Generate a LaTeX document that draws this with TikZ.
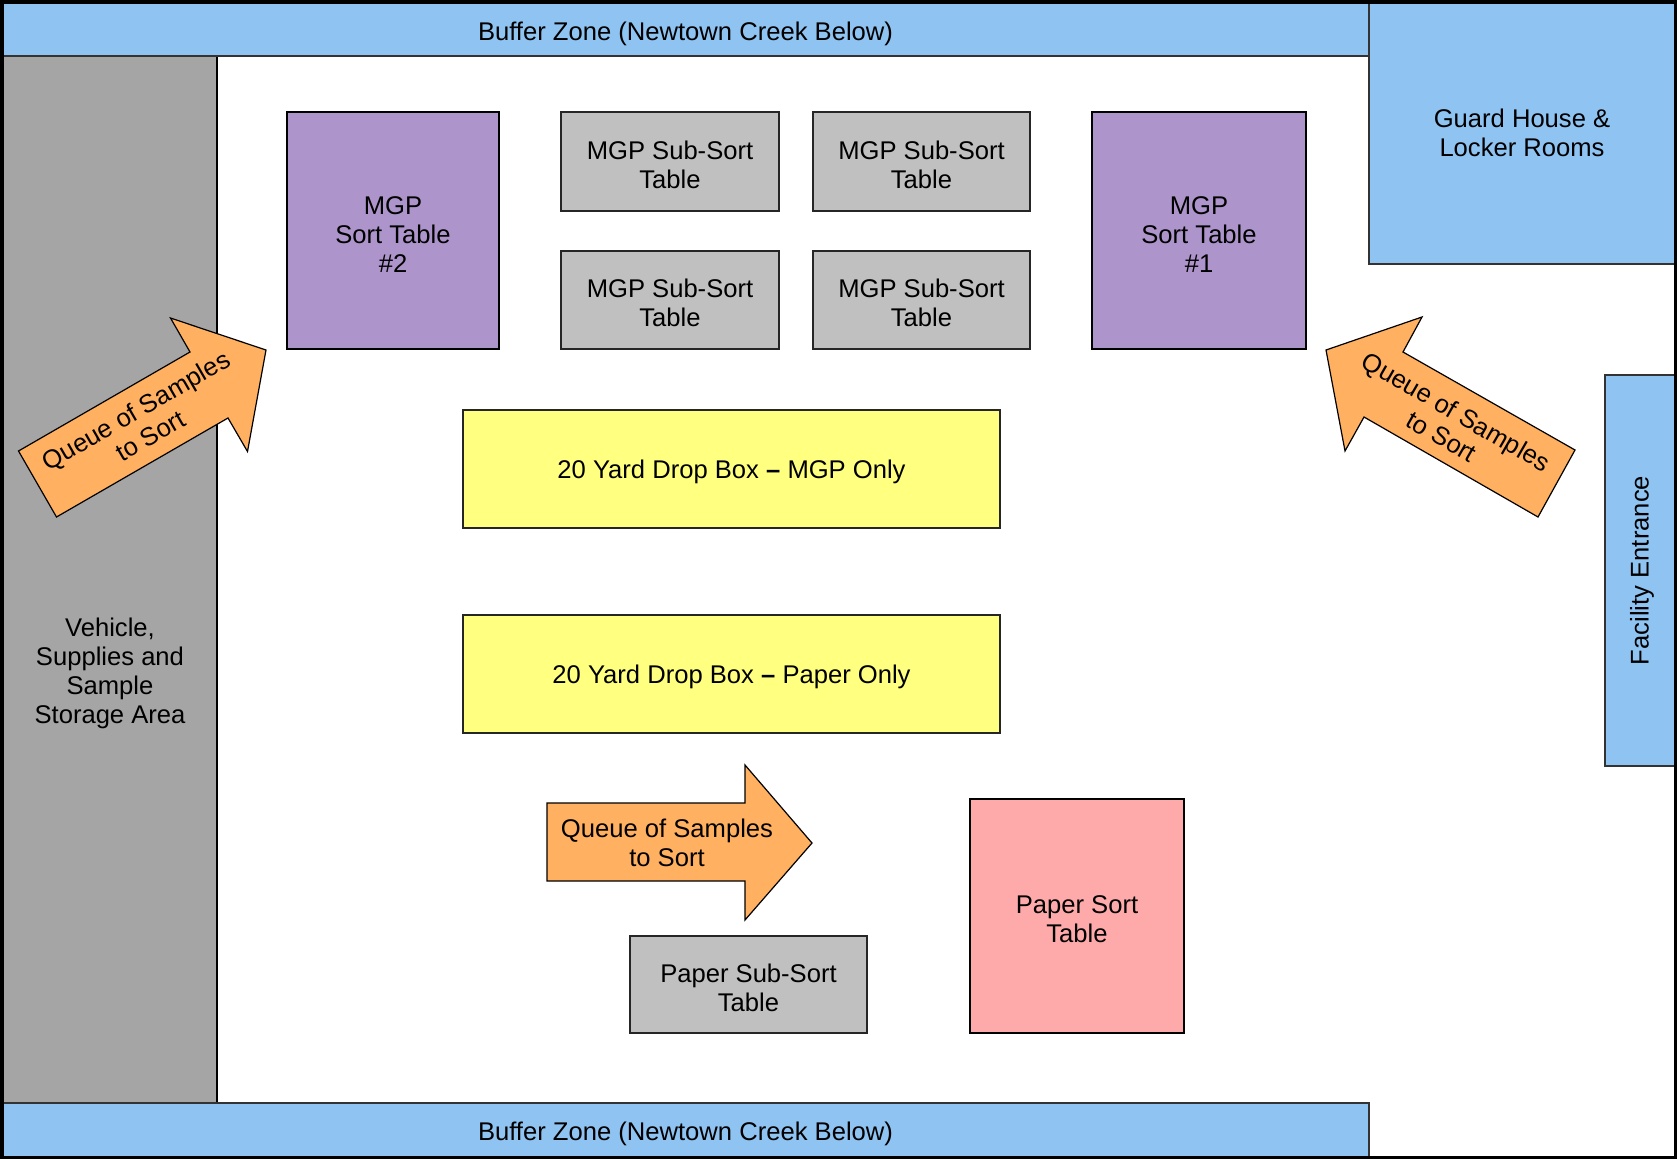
\documentclass[tikz,border=0pt]{standalone}
\usepackage{fontspec}
\setmainfont{Liberation Sans}
\definecolor{zoneblue}{HTML}{8FC3F2}
\definecolor{storegray}{HTML}{A5A5A5}
\definecolor{tablegray}{HTML}{C0C0C0}
\definecolor{mgppurple}{HTML}{AD94CB}
\definecolor{dropyellow}{HTML}{FFFF80}
\definecolor{paperpink}{HTML}{FFAAAA}
\definecolor{queueorange}{HTML}{FFB060}
\begin{document}
\begin{tikzpicture}[x=1pt,y=-1pt,
  lbl/.style={font=\fontsize{25.6}{28.8}\selectfont, align=center, text=black, inner sep=0pt},
  txt/.style={lbl, yshift=-3pt},
  area/.style={draw=black!80, line width=1.2, inner sep=0pt, outer sep=0pt},
  zone/.style={area, fill=zoneblue},
  subtable/.style={area, fill=tablegray, draw=black!85, line width=1.5},
  sorttable/.style={area, draw=black, line width=2.2},
  dropbox/.style={area, fill=dropyellow, draw=black!85, line width=1.3},
  queue/.style={fill=queueorange, draw=black, line width=1.2, line join=miter},
]
\useasboundingbox (0,0) rectangle (1677,1159);
\fill[white] (0,0) rectangle (1677,1159);

% storage area
\node[area, fill=storegray, draw=black, line width=2.2, minimum width=215, minimum height=1047] (storage) at (109.5,579.5) {};
\node[lbl] (storagetxt) at (110,673.5) {Vehicle,\\Supplies and\\Sample\\Storage Area};

% buffer zones and buildings
\node[zone, minimum width=1367, minimum height=54, label={[lbl,yshift=-4.5pt]center:Buffer Zone (Newtown Creek Below)}] (topbuf) at (685.5,29) {};
\node[zone, minimum width=1367, minimum height=54, label={[lbl,yshift=-4pt]center:Buffer Zone (Newtown Creek Below)}] (botbuf) at (685.5,1130) {};
\node[zone, minimum width=306, minimum height=262, label={[lbl]center:Guard House \&\\Locker Rooms}] (guard) at (1522,133) {};
\node[zone, minimum width=70, minimum height=391] (entrance) at (1640,570.5) {};
\node[lbl, rotate=90] (entrancetxt) at (1642,570.5) {Facility Entrance};

% MGP tables
\node[sorttable, fill=mgppurple, minimum width=212, minimum height=237, label={[txt, yshift=-1pt]center:MGP\\Sort Table\\\#2}] (mgp2) at (393,230.5) {};
\node[sorttable, fill=mgppurple, minimum width=214, minimum height=237, label={[txt, yshift=-1pt]center:MGP\\Sort Table\\\#1}] (mgp1) at (1199,230.5) {};
\node[subtable, minimum width=218, minimum height=99, label={[txt]center:MGP Sub-Sort\\Table}] (sub1) at (670,161.5) {};
\node[subtable, minimum width=217, minimum height=99, label={[txt]center:MGP Sub-Sort\\Table}] (sub2) at (921.5,161.5) {};
\node[subtable, minimum width=218, minimum height=98, label={[txt]center:MGP Sub-Sort\\Table}] (sub3) at (670,300) {};
\node[subtable, minimum width=217, minimum height=98, label={[txt]center:MGP Sub-Sort\\Table}] (sub4) at (921.5,300) {};

% drop boxes
\node[dropbox, minimum width=537, minimum height=118, label={[txt]center:20 Yard Drop Box \textbf{--} MGP Only}] (drop1) at (731.5,469) {};
\node[dropbox, minimum width=537, minimum height=118, label={[txt]center:20 Yard Drop Box \textbf{--} Paper Only}] (drop2) at (731.5,674) {};

% paper tables
\node[sorttable, fill=paperpink, minimum width=214, minimum height=234, label={[txt]center:Paper Sort\\Table}] (papersort) at (1077,916) {};
\node[subtable, minimum width=237, minimum height=97, label={[txt]center:Paper Sub-Sort\\Table}] (papersub) at (748.5,984.5) {};

% queue arrows
\draw[queue] (18.5,451) -- (190,352) -- (170.5,318) -- (266,350) -- (247.5,451.5) -- (228,418) -- (56.5,517) -- cycle;
\node[lbl, rotate=30] (queueleft) at (143,423) {Queue of Samples\\to Sort};

\draw[queue] (1575,450) -- (1403,352) -- (1422,317) -- (1326,350) -- (1345,451) -- (1364,417) -- (1538,517) -- cycle;
\node[lbl, rotate=-30] (queueright) at (1449,424) {Queue of Samples\\to Sort};

\draw[queue] (547,803) -- (745,803) -- (745,765) -- (812,843) -- (745,920) -- (745,881) -- (547,881) -- cycle;
\node[lbl] (queuebottom) at (667,843) {Queue of Samples\\to Sort};

% outer frame
\draw[black, line width=3.5] (1.75,1.75) rectangle (1675.25,1157.25);
\end{tikzpicture}
\end{document}
